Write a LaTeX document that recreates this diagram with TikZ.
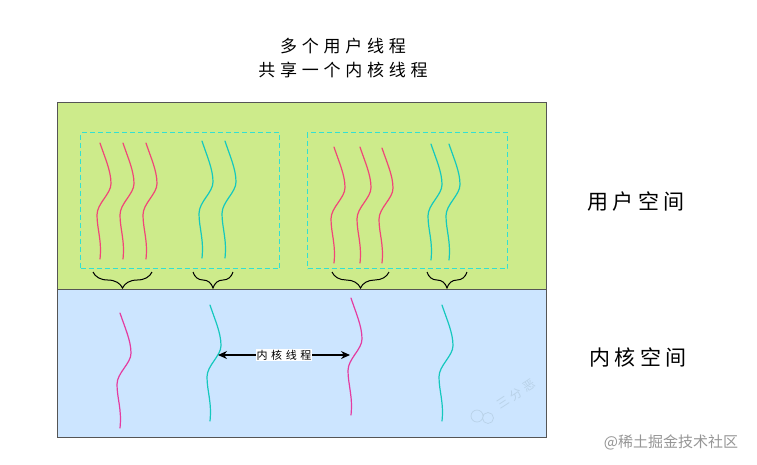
\documentclass[tikz,border=0pt]{standalone}
\usepackage{fontspec}
\newfontfamily\cjktitle[LetterSpace=28]{Noto Sans CJK SC}
\newfontfamily\cjkside[LetterSpace=20]{Noto Sans CJK SC}
\newfontfamily\cjklab[LetterSpace=32]{Noto Sans CJK SC}
\newfontfamily\cjk{Noto Sans CJK SC}
\usetikzlibrary{decorations.pathreplacing,arrows.meta}
\definecolor{usergreen}{RGB}{205,235,139}
\definecolor{kernblue}{RGB}{204,229,255}
\definecolor{frame}{RGB}{85,85,85}
\definecolor{dashcyan}{RGB}{50,224,210}
\definecolor{upink}{RGB}{240,70,120}
\definecolor{kpink}{RGB}{228,60,160}
\definecolor{teal}{RGB}{20,200,190}
\definecolor{wmark}{RGB}{185,210,232}
% #1 colour, #2 x of top, #3 y of top, #4 y of bottom
\newcommand\wthread[4]{%
  \draw[threadline,#1]
    ({#2},{#3})
    .. controls ({#2+5},{#3+0.13*(#4-#3)}) and ({#2+11},{#3+0.24*(#4-#3)}) ..
    ({#2+11},{#3+0.35*(#4-#3)})
    .. controls ({#2+11},{#3+0.44*(#4-#3)}) and ({#2-3},{#3+0.52*(#4-#3)}) ..
    ({#2-3},{#3+0.62*(#4-#3)})
    .. controls ({#2-3},{#3+0.74*(#4-#3)}) and ({#2+2},{#3+0.84*(#4-#3)}) ..
    ({#2},{#4});}
\begin{document}
\begin{tikzpicture}[x=1pt,y=-1pt,
  threadline/.style={line width=1.2pt,line cap=round},
  spacebox/.style={draw=frame,line width=1.3pt,anchor=north west,inner sep=0pt},
  groupbox/.style={draw=dashcyan,line width=1pt,dash pattern=on 5pt off 3pt,anchor=north west,inner sep=0pt},
  bracemark/.style={decorate,decoration={brace,amplitude=16pt,aspect=0.5},line width=1pt},
  title/.style={font=\fontsize{17}{20}\selectfont\cjktitle,inner sep=0pt},
  side/.style={font=\fontsize{21}{24}\selectfont\cjkside,inner sep=0pt},
]
\useasboundingbox (0,0) rectangle (757,464);
\fill[white] (0,0) rectangle (757,464);
% title
\node[title] (t1) at (343,46) {多个用户线程};
\node[title] (t2) at (343,70) {共享一个内核线程};
% spaces
\node[spacebox,fill=usergreen,minimum width=489pt,minimum height=187pt] (user) at (57,102) {};
\node[spacebox,fill=kernblue,minimum width=489pt,minimum height=148pt] (kern) at (57,289) {};
% dashed group boxes
\node[groupbox,minimum width=199pt,minimum height=136pt] (g1) at (80,132) {};
\node[groupbox,minimum width=200pt,minimum height=136pt] (g2) at (307,132) {};
% user threads
\wthread{upink}{100}{143}{259}
\wthread{upink}{123}{143}{259}
\wthread{upink}{146}{143}{259}
\wthread{teal}{202}{141}{258}
\wthread{teal}{225}{141}{258}
\wthread{upink}{334}{147}{263}
\wthread{upink}{360}{147}{263}
\wthread{upink}{382}{148}{263}
\wthread{teal}{431}{144}{260}
\wthread{teal}{449}{144}{260}
% braces
\draw[bracemark] (152,272) -- (93,272);
\draw[bracemark] (233,272) -- (193,272);
\draw[bracemark] (389,272) -- (332,272);
\draw[bracemark] (467,272) -- (427,272);
% kernel threads
\wthread{kpink}{120}{313}{428}
\wthread{teal}{210}{305}{421}
\wthread{kpink}{351}{298}{415}
\wthread{teal}{442}{305}{421}
\coordinate (ka) at (218,355);
\coordinate (kb) at (350,355);
\draw[line width=1.2pt,{Stealth[length=9pt,width=8pt]}-{Stealth[length=9pt,width=8pt]}] (ka) -- (kb)
  node[midway,fill=white,inner sep=1pt,font=\fontsize{11}{13}\selectfont\cjklab] (klab) {内核线程};
% side labels
\node[side] (us) at (636,202) {用户空间};
\node[side] (ks) at (638,357) {内核空间};
% watermarks
\node[font=\fontsize{12}{14}\selectfont\cjklab,text=wmark,rotate=33,inner sep=0pt] (wm) at (516,394) {三分恶};
\draw[wmark,line width=0.7pt] (477,416) circle (6pt) (488,418) circle (5.5pt);
\node[font=\fontsize{15}{18}\selectfont\cjk,text={rgb,255:red,150;green,150;blue,150},inner sep=0pt] (wm2) at (671,442) {@稀土掘金技术社区};
\end{tikzpicture}
\end{document}
